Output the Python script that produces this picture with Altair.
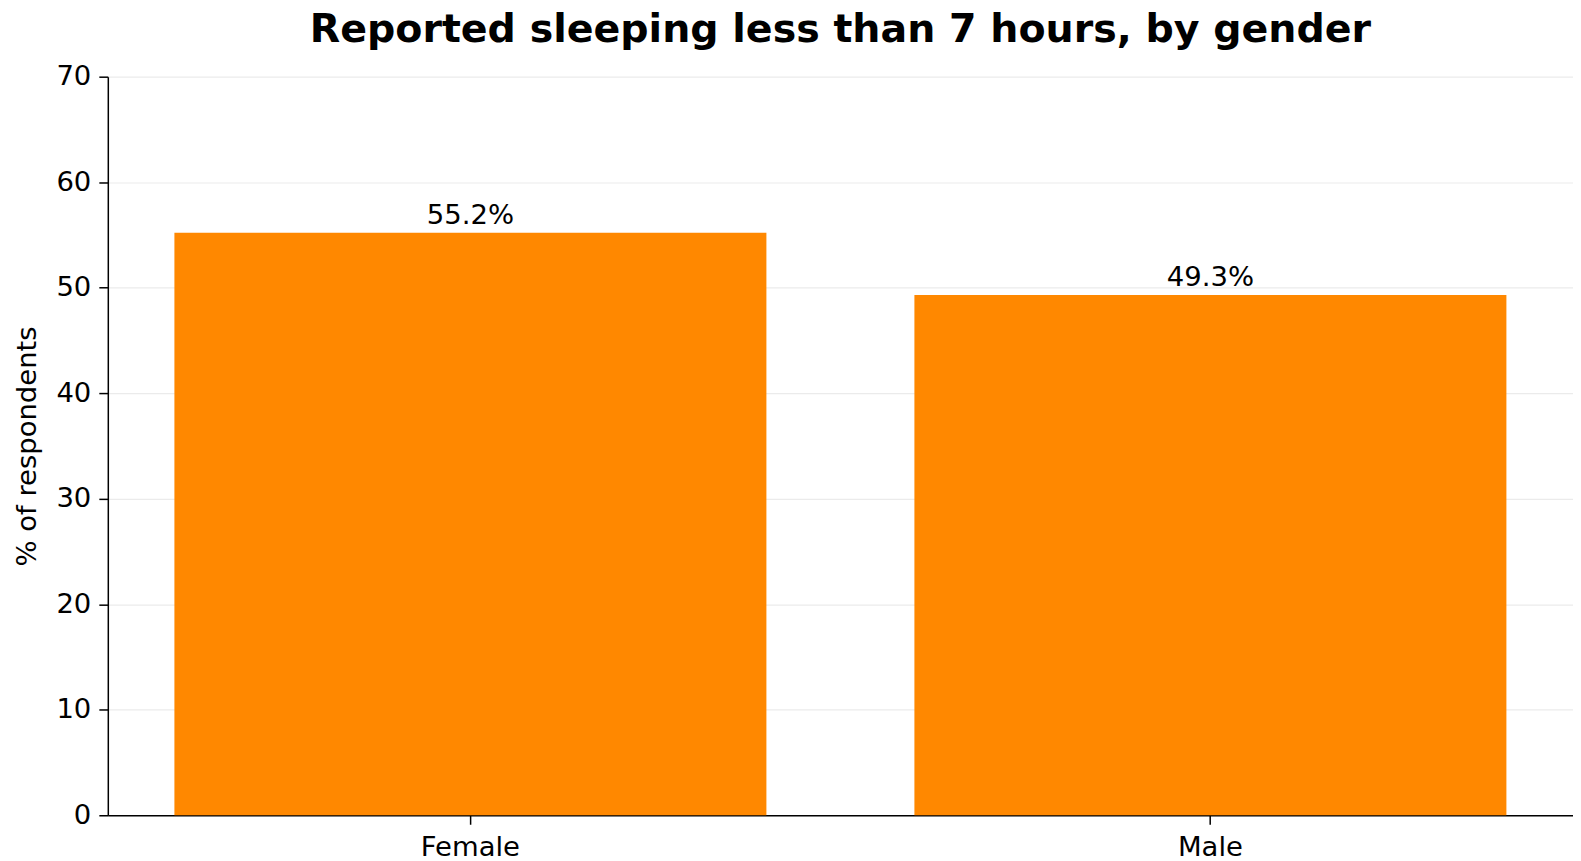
import altair as alt
import pandas as pd

genders = ["Female", "Male"]
values = [55.2, 49.3]
labels = ["55.2%", "49.3%"]

df = pd.DataFrame({"gender": genders, "value": values, "label": labels})

FONT = "DejaVu Sans"
FS = 27.5

base = alt.Chart(df).encode(
    x=alt.X("gender:N", sort=genders, title=None,
            scale=alt.Scale(paddingInner=0.2, paddingOuter=0.09),
            axis=alt.Axis(labelAngle=0, labelFontSize=FS, labelFont=FONT, labelColor="black",
                          tickColor="black", tickSize=9, tickWidth=1.5, domainColor="black",
                          domainWidth=1.5, labelPadding=9, grid=False)),
)

bars = base.mark_bar(color="#FF8800").encode(
    y=alt.Y("value:Q", title="% of respondents",
            scale=alt.Scale(domain=[0, 70], nice=False),
            axis=alt.Axis(values=[0, 10, 20, 30, 40, 50, 60, 70], labelFontSize=FS, labelFont=FONT,
                          labelColor="black", titleFont=FONT, titleFontSize=FS,
                          titleFontWeight="normal", titleColor="black", tickColor="black",
                          tickSize=9, tickWidth=1.5, domainColor="black", domainWidth=1.5,
                          gridColor="#ebebeb", gridWidth=1.2, labelPadding=8, titlePadding=14))
)

text = base.mark_text(baseline="alphabetic", dy=-9, fontSize=FS, font=FONT, color="black").encode(
    y="value:Q", text="label:N"
)

chart = (bars + text).properties(
    width=1468, height=740,
    title=alt.TitleParams("Reported sleeping less than 7 hours, by gender", font=FONT,
                          fontSize=39.6, fontWeight="bold", color="black", offset=12),
    padding={"left": 100, "top": 68, "right": 0, "bottom": 45},
    autosize=alt.AutoSizeParams(type="none"),
).configure_view(stroke=None)

chart.save("out.html", embed_options={"renderer": "svg", "actions": False})
